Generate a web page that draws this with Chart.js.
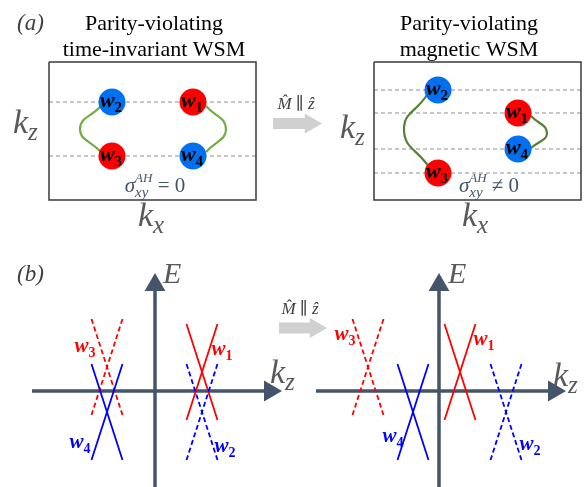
<!DOCTYPE html>
<html>
<head>
<meta charset="utf-8">
<script src="https://cdn.jsdelivr.net/npm/chart.js@4.4.1/dist/chart.umd.min.js"></script>
<style>
  html, body { margin: 0; padding: 0; background: #fff; }
  #wrap { width: 584px; height: 487px; position: relative; }
</style>
</head>
<body>
<div id="wrap"><canvas id="c"></canvas></div>
<script>
// ---- data (drawing space = 584 x 487, y down) ----
// panel (a): Brillouin-zone boxes [left, top, right, bottom]
const boxLeft = [49, 62, 256, 200];
const boxRight = [374, 62, 581, 200];
// kz planes of the nodes (dashed lines)
const planesLeft = [102, 156];
const planesRight = [90, 113, 149, 173];
// Weyl nodes w1..w4
const nodeNames = ['1', '2', '3', '4'];
const nodeColors = ['#ff0000', '#0070f0', '#ff0000', '#0070f0'];
const nodesLeftX = [193, 112, 112, 193];
const nodesLeftY = [102, 102, 156, 156];
const nodesRightX = [518, 438, 438, 518];
const nodesRightY = [113, 90, 173, 149];
// Fermi arcs
const arcsLeft = [[[101, 106], [80, 129], [101, 152]], [[206, 106], [226, 129], [206, 152]]];
const arcsRight = [[[427, 95], [404, 130], [429, 167]], [[531, 116], [547, 133], [531, 148]]];

// panel (b): crossing points (kz, E) of each node's dispersion, w1..w4
const bandLeftX = [202, 202, 107, 107];
const bandLeftY = [372, 412, 367, 412];
const bandRightX = [460, 506, 368, 413];
const bandRightY = [372, 412, 367, 412];
const bandDashed = [false, true, true, false];
const bandColors = ['#ff0000', '#0000ff', '#ff0000', '#0000ff'];
// node label anchors in (b)
const labelLeftX = [222, 225, 85, 80];
const labelLeftY = [350, 447, 347, 443];
const labelRightX = [484, 530, 345, 393];
const labelRightY = [340, 445, 335, 437];

// axes of (b): origin and arrow tips
const axesOrigin = [[155, 391], [439, 391]];
const axesLeftEnd = [32, 316];
const axesBottom = 487;
const axesTipX = [282, 566];
const axesTipY = 273;

// grey transition arrows [x0, x1 (tip), y]
const moveArrows = [[273, 322, 123.5], [279, 327, 328]];

// ---- chart ----
const datasets = [];
function add(ds) {
  ds.order = -datasets.length;
  ds.clip = false;
  datasets.push(ds);
}
function pts(list) { return list.map(p => ({ x: p[0], y: p[1] })); }
function line(list, color, width, dash, tension) {
  add({
    type: 'scatter', data: pts(list), showLine: true,
    borderColor: color, borderWidth: width, borderDash: dash || [],
    pointRadius: 0, pointHoverRadius: 0, fill: false, tension: tension || 0,
    borderJoinStyle: 'miter', borderCapStyle: 'butt'
  });
}
function marker(list, color, radius, style, rotation) {
  add({
    type: 'scatter', data: pts(list), showLine: false,
    pointStyle: style, rotation: rotation || 0,
    pointRadius: radius, pointHoverRadius: radius,
    pointBackgroundColor: color, pointBorderColor: color, pointBorderWidth: 0
  });
}

// boxes + dashed planes
[[boxLeft, planesLeft], [boxRight, planesRight]].forEach(([b, planes]) => {
  planes.forEach(y => line([[b[0], y], [b[2], y]], '#8c8c8c', 1, [4, 3]));
  line([[b[0], b[1]], [b[2], b[1]], [b[2], b[3]], [b[0], b[3]], [b[0], b[1]]], '#3a3a3a', 1.5);
});
arcsLeft.forEach(a => line(a, '#70ad47', 2.2, [], 0.5));
arcsRight.forEach(a => line(a, '#548235', 2.2, [], 0.5));
nodeNames.forEach((n, i) => {
  marker([[nodesLeftX[i], nodesLeftY[i]]], nodeColors[i], 13.5, 'circle');
  marker([[nodesRightX[i], nodesRightY[i]]], nodeColors[i], 13.5, 'circle');
});

// grey transition arrows
const headR = 11.5;
moveArrows.forEach(a => {
  line([[a[0], a[2]], [a[1] - headR * 1.3, a[2]]], '#d0d0d0', 11);
  marker([[a[1] - headR, a[2]]], '#d0d0d0', headR, 'triangle', 90);
});

// axes of (b)
axesOrigin.forEach((o, i) => {
  line([[axesLeftEnd[i], o[1]], [axesTipX[i] - 12, o[1]]], '#44546a', 3.5);
  line([[o[0], axesBottom], [o[0], axesTipY + 12]], '#44546a', 3.5);
  marker([[axesTipX[i] - 12, o[1]]], '#44546a', 12, 'triangle', 90);
  marker([[o[0], axesTipY + 12]], '#44546a', 12, 'triangle', 0);
});

// dispersion crosses
const halfK = 15.5, halfE = 48;
[[bandLeftX, bandLeftY], [bandRightX, bandRightY]].forEach(([bx, by]) => {
  bx.forEach((cx, i) => {
    const cy = by[i];
    const dash = bandDashed[i] ? [5, 3] : [];
    line([[cx - halfK, cy - halfE], [cx + halfK, cy + halfE]], bandColors[i], 1.8, dash);
    line([[cx + halfK, cy - halfE], [cx - halfK, cy + halfE]], bandColors[i], 1.8, dash);
  });
});

// ---- text ----
const SERIF = '"Liberation Serif", "DejaVu Serif", serif';
function drawParts(ctx, x, y, parts, align, color) {
  ctx.save();
  ctx.fillStyle = color;
  ctx.textBaseline = 'alphabetic';
  ctx.textAlign = 'left';
  const widths = parts.map(p => { ctx.font = p.f; return ctx.measureText(p.t).width; });
  let total = 0;
  for (let i = 0; i < parts.length; i++) {
    if (parts[i].stack) { total += Math.max(widths[i], widths[i + 1]); i++; }
    else total += widths[i];
  }
  let cx = align === 'center' ? x - total / 2 : align === 'right' ? x - total : x;
  for (let i = 0; i < parts.length; i++) {
    const p = parts[i];
    ctx.font = p.f;
    ctx.fillText(p.t, cx, y + (p.dy || 0));
    if (p.stack) {
      const q = parts[i + 1];
      ctx.font = q.f;
      ctx.fillText(q.t, cx, y + (q.dy || 0));
      cx += Math.max(widths[i], widths[i + 1]);
      i++;
    } else cx += widths[i];
  }
  ctx.restore();
}
function wLabel(n, size) {
  return [
    { t: 'w', f: `italic bold ${size}px ${SERIF}` },
    { t: n, f: `bold ${Math.round(size * 0.68)}px ${SERIF}`, dy: size * 0.22 }
  ];
}
function kLabel(sub) {
  return [
    { t: 'k', f: `italic 34px ${SERIF}` },
    { t: sub, f: `italic 25px ${SERIF}`, dy: 7 }
  ];
}
function sigma(rel) {
  return [
    { t: 'σ', f: `italic 21px ${SERIF}` },
    { t: 'AH', f: `italic 13px ${SERIF}`, dy: -10, stack: true },
    { t: 'xy', f: `italic 15px ${SERIF}`, dy: 5 },
    { t: ' ' + rel + ' 0', f: `21px ${SERIF}` }
  ];
}
const magnetLabel = [{ t: 'M\u0302 \u2225 \u1E91', f: `italic 17px ${SERIF}` }];

const textPlugin = {
  id: 'texts',
  afterDatasetsDraw(chart) {
    const ctx = chart.ctx;
    const sx = v => chart.scales.x.getPixelForValue(v);
    const sy = v => chart.scales.y.getPixelForValue(v);
    const T = (x, y, parts, align, color) => drawParts(ctx, sx(x), sy(y), parts, align, color);

    T(17, 30, [{ t: '(a)', f: `italic 23px ${SERIF}` }], 'left', '#404040');
    T(17, 281, [{ t: '(b)', f: `italic 23px ${SERIF}` }], 'left', '#404040');
    T(154, 30, [{ t: 'Parity-violating', f: `22px ${SERIF}` }], 'center', '#000');
    T(154, 56, [{ t: 'time-invariant WSM', f: `22px ${SERIF}` }], 'center', '#000');
    T(469, 30, [{ t: 'Parity-violating', f: `22px ${SERIF}` }], 'center', '#000');
    T(469, 56, [{ t: 'magnetic WSM', f: `22px ${SERIF}` }], 'center', '#000');

    T(13, 133, kLabel('z'), 'left', '#595959');
    T(340, 138, kLabel('z'), 'left', '#595959');
    T(138, 226, kLabel('x'), 'left', '#595959');
    T(462, 226, kLabel('x'), 'left', '#595959');
    T(270, 383, kLabel('z'), 'left', '#595959');
    T(553, 386, kLabel('z'), 'left', '#595959');
    T(163, 283, [{ t: 'E', f: `italic 30px ${SERIF}` }], 'left', '#595959');
    T(448, 283, [{ t: 'E', f: `italic 30px ${SERIF}` }], 'left', '#595959');

    T(155, 192, sigma('='), 'center', '#44546a');
    T(489, 192, sigma('\u2260'), 'center', '#44546a');

    T(296, 109, magnetLabel, 'center', '#404040');
    T(300, 314, magnetLabel, 'center', '#404040');

    nodeNames.forEach((n, i) => {
      T(nodesLeftX[i] - 1, nodesLeftY[i] + 5, wLabel(n, 22), 'center', '#000');
      T(nodesRightX[i] - 1, nodesRightY[i] + 5, wLabel(n, 22), 'center', '#000');
      T(labelLeftX[i], labelLeftY[i] + 5, wLabel(n, 21), 'center', bandColors[i]);
      T(labelRightX[i], labelRightY[i] + 5, wLabel(n, 21), 'center', bandColors[i]);
    });
  }
};

new Chart(document.getElementById('c'), {
  type: 'scatter',
  data: { datasets },
  options: {
    responsive: true,
    maintainAspectRatio: false,
    animation: false,
    events: [],
    layout: { padding: 0, autoPadding: false },
    plugins: { legend: { display: false }, tooltip: { enabled: false } },
    scales: {
      x: { type: 'linear', display: false, min: 0, max: 584 },
      y: { type: 'linear', display: false, min: 0, max: 487, reverse: true }
    }
  },
  plugins: [textPlugin]
});
</script>
</body>
</html>
